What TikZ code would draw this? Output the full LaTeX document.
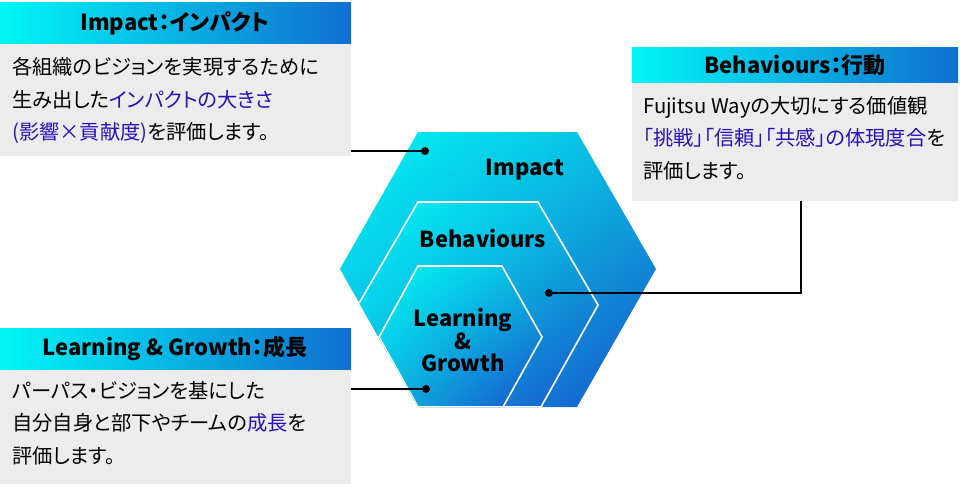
\documentclass[tikz,border=0pt]{standalone}
\usepackage{fontspec}
\setmainfont{Noto Sans CJK JP}[RawFeature=+palt]
\usetikzlibrary{calc,shadings}
\definecolor{hexcyan}{HTML}{00F6F6}
\definecolor{hexmid}{HTML}{0BB6DF}
\definecolor{hexblue}{HTML}{1850CC}
\definecolor{headblue}{HTML}{1070D0}
\definecolor{bodygray}{HTML}{ECECEC}
\definecolor{accent}{HTML}{2A10B8}
\tikzset{
  hexfill/.style={upper left=hexcyan, upper right=hexmid, lower left=hexmid, lower right=hexblue},
  headtext/.style={font=\fontsize{16.5}{18}\selectfont\bfseries, inner sep=0pt},
  bodytext/.style={font=\fontsize{15.2}{24.5}\selectfont, align=left, anchor=north west, inner sep=0pt},
  hextext/.style={font=\fontsize{16.5}{15}\selectfont\bfseries, align=center, inner sep=0pt},
  leader/.style={line width=0.8pt},
  dotmark/.style={circle, fill=black, inner sep=0pt, minimum size=6pt}
}
\begin{document}
\begin{tikzpicture}[x=0.75pt,y=0.75pt,yscale=-1,xscale=1]
\useasboundingbox (0,0) rectangle (960,496);

% hexagons
\begin{scope}
  \clip (418,132) -- (577,132) -- (656,269) -- (577,407) -- (418,407) -- (340,269) -- cycle;
  \shade[hexfill] (418,132) -- (577,132) -- (656,269) -- (577,407) -- (418,407) -- (340,269) -- cycle;
  \shade[hexfill, draw=white, line width=1.2pt] (418,202) -- (538,202) -- (598,305) -- (541,407) -- (418,407) -- (358,305) -- cycle;
  \shade[hexfill, draw=white, line width=1.2pt] (418,266) -- (502,266) -- (542,337) -- (503,407) -- (418,407) -- (379,337) -- cycle;
\end{scope}
\node[hextext] (hexI) at (525,170) {Impact};
\node[hextext] (hexB) at (483,239) {Behaviours};
\node[hextext, font=\fontsize{16.5}{16}\selectfont\bfseries] (hexL) at (463,340) {Learning\\\&\\Growth};

% boxes
\shade[left color=hexcyan, right color=headblue] (0,2) rectangle (351,44);
\fill[bodygray] (0,44) rectangle (351,156);
\node[headtext] (headI) at (175,23) {Impact：インパクト};
\node[bodytext] (textI) at (12,57) {各組織のビジョンを実現するために\\生み出した\textcolor{accent}{インパクトの大きさ}\\\textcolor{accent}{(影響×貢献度)}を評価します。};

\shade[left color=hexcyan, right color=headblue] (632,47) rectangle (958,83);
\fill[bodygray] (632,83) rectangle (958,201);
\node[headtext] (headB) at (795,65) {Behaviours：行動};
\node[bodytext] (textB) at (643,96) {Fujitsu Wayの大切にする価値観\\\textcolor{accent}{「挑戦」「信頼」「共感」の体現度合}を\\評価します。};

\shade[left color=hexcyan, right color=headblue] (0,328) rectangle (351,370);
\fill[bodygray] (0,370) rectangle (351,484);
\node[headtext] (headL) at (175,349) {Learning \& Growth：成長};
\node[bodytext] (textL) at (12,381) {パーパス・ビジョンを基にした\\自分自身と部下やチームの\textcolor{accent}{成長}を\\評価します。};

% leaders
\node[dotmark] (dotI) at (425,151) {};
\node[dotmark] (dotB) at (549,293) {};
\node[dotmark] (dotL) at (426,389) {};
\coordinate (endI) at (351,151);
\coordinate (endB) at (801,201);
\coordinate (endL) at (351,389);
\draw[leader] (dotI.center) -- (endI);
\draw[leader] (dotB.center) -- (dotB -| endB) -- (endB);
\draw[leader] (dotL.center) -- (endL);
\end{tikzpicture}
\end{document}
